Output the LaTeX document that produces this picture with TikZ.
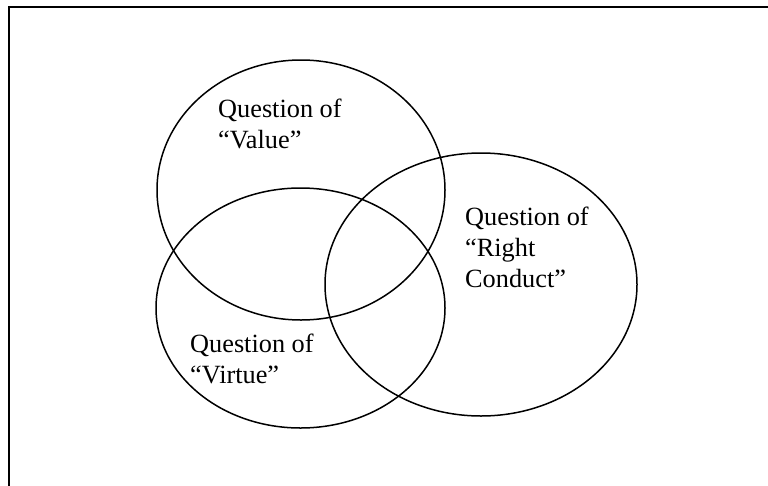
\documentclass[tikz,border=0pt]{standalone}
\usepackage{fontspec}
\setmainfont{Liberation Serif}
\usepackage{tikz}

\tikzset{
  ring/.style={line width=1.5pt},
  qlabel/.style={anchor=base west, align=left, inner sep=0pt,
    font=\fontsize{26.3}{31}\selectfont}
}

\begin{document}
\begin{tikzpicture}[x=1pt,y=-1pt]
             \useasboundingbox (0,0) rectangle (768,485);
             \clip (0,0) rectangle (768,485);
             % frame, runs off the right and bottom edges
             \draw[line width=2pt] (9,7) rectangle (780,500);
             % the three questions
             \draw[ring] (301,190) ellipse (144pt and 130pt);
             \draw[ring] (300.5,308) ellipse (144.5pt and 120pt);
             \draw[ring] (481,284.5) ellipse (156pt and 131.5pt);
             \node[qlabel] (value) at (218,148) {Question of\\“Value”};
             \node[qlabel] (conduct) at (465,287) {Question of\\“Right\\Conduct”};
             \node[qlabel] (virtue) at (190,383) {Question of\\“Virtue”};
           \end{tikzpicture}
\end{document}
